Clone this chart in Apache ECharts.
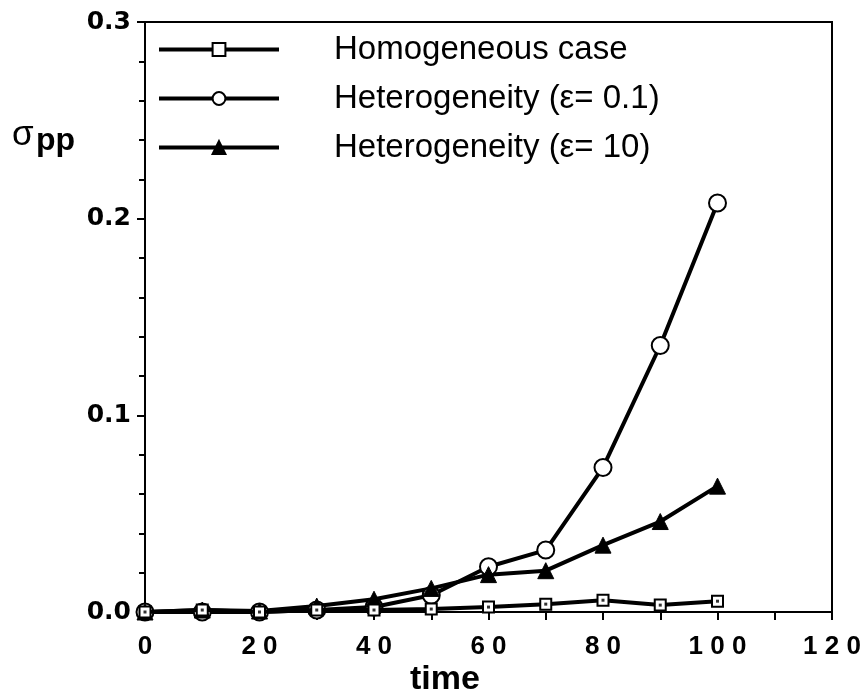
<!DOCTYPE html>
<html><head><meta charset="utf-8">
<script src="https://cdn.jsdelivr.net/npm/echarts@6/dist/echarts.min.js"></script>
<style>html,body{margin:0;padding:0;background:#fff}#c{width:868px;height:700px}</style>
</head><body><div id="c"></div>
<script>
const times = [0,10,20,30,40,50,60,70,80,90,100];
const homogeneous = [0,0.001,0,0.001,0.001,0.0015,0.0025,0.004,0.006,0.0035,0.0055];
const hetero01 = [0,0,0,0.001,0.0025,0.0085,0.023,0.0315,0.0735,0.1355,0.208];
const hetero10 = [0,0.001,0.0005,0.003,0.0065,0.012,0.019,0.021,0.034,0.046,0.064];
const xTicks = [0,20,40,60,80,100,120];
const yTicks = [0.0,0.1,0.2,0.3];
const names = ['Homogeneous case','Heterogeneity (\u03b5= 0.1)','Heterogeneity (\u03b5= 10)'];

const pair = arr => times.map((t,i)=>[t,arr[i]]);
const chart = echarts.init(document.getElementById('c'));
const lineStyle = {color:'#000', width:4};
chart.setOption({
  animation:false,
  backgroundColor:'#fff',
  grid:{left:145,right:36,top:22,bottom:88,show:true,borderColor:'#000',borderWidth:2,backgroundColor:'transparent'},
  legend:{
    data:names, orient:'vertical', left:152, top:28, itemWidth:120, itemHeight:16, itemGap:16,
    lineStyle:{width:4,color:'#000'},
    textStyle:{fontFamily:'Liberation Sans',fontSize:33,color:'#000',padding:[0,0,0,50]},
    inactiveColor:'#000'
  },
  xAxis:{
    type:'value', min:0, max:120, interval:20,
    axisLine:{lineStyle:{color:'#000',width:2}},
    axisTick:{show:true,length:8,lineStyle:{color:'#000',width:2}},
    minorTick:{show:true,splitNumber:2,length:8,lineStyle:{color:'#000',width:2}},
    splitLine:{show:false},
    axisLabel:{fontFamily:'Liberation Sans',fontWeight:'bold',fontSize:26,color:'#000',margin:22,
      formatter:v=>xTicks.includes(v)?String(v).split('').join(' '):''}
  },
  yAxis:{
    type:'value', min:0, max:0.3, interval:0.1,
    axisLine:{lineStyle:{color:'#000',width:2}},
    axisTick:{show:true,length:8,inside:false,lineStyle:{color:'#000',width:2}},
    minorTick:{show:true,splitNumber:5,length:6,lineStyle:{color:'#000',width:2}},
    splitLine:{show:false},
    axisLabel:{fontFamily:'DejaVu Sans',fontWeight:'bold',fontSize:25,color:'#000',margin:14,
      formatter:v=>{const t=yTicks.find(y=>Math.abs(y-v)<1e-9);return t===undefined?'':t.toFixed(1);}}
  },
  graphic:[
    {type:'text',x:12,y:135,style:{text:'\u03c3',fontFamily:'Liberation Sans',fontSize:35,fill:'#000',align:'left',verticalAlign:'middle'}},
    {type:'text',x:36,y:141,style:{text:'pp',fontFamily:'Liberation Sans',fontWeight:'bold',fontSize:32,fill:'#000',align:'left',verticalAlign:'middle'}},
    {type:'text',x:445,y:697,style:{text:'time',fontFamily:'Liberation Sans',fontWeight:'bold',fontSize:34,fill:'#000',align:'center',verticalAlign:'bottom'}}
  ],
  series:[
    {name:names[0],type:'line',data:pair(homogeneous),symbol:'rect',symbolSize:11,
      itemStyle:{color:'#fff',borderColor:'#000',borderWidth:2},lineStyle:lineStyle,z:3},
    {name:names[1],type:'line',data:pair(hetero01),symbol:'circle',symbolSize:17,
      itemStyle:{color:'#fff',borderColor:'#000',borderWidth:2},lineStyle:lineStyle,z:2},
    {name:names[2],type:'line',data:pair(hetero10),symbol:'triangle',symbolSize:16,
      itemStyle:{color:'#000',borderColor:'#000',borderWidth:1},lineStyle:lineStyle,z:2},
    {name:'dots',type:'scatter',data:pair(homogeneous),symbol:'rect',symbolSize:3,
      itemStyle:{color:'#000'},silent:true,z:4}
  ]
});
</script></body></html>
